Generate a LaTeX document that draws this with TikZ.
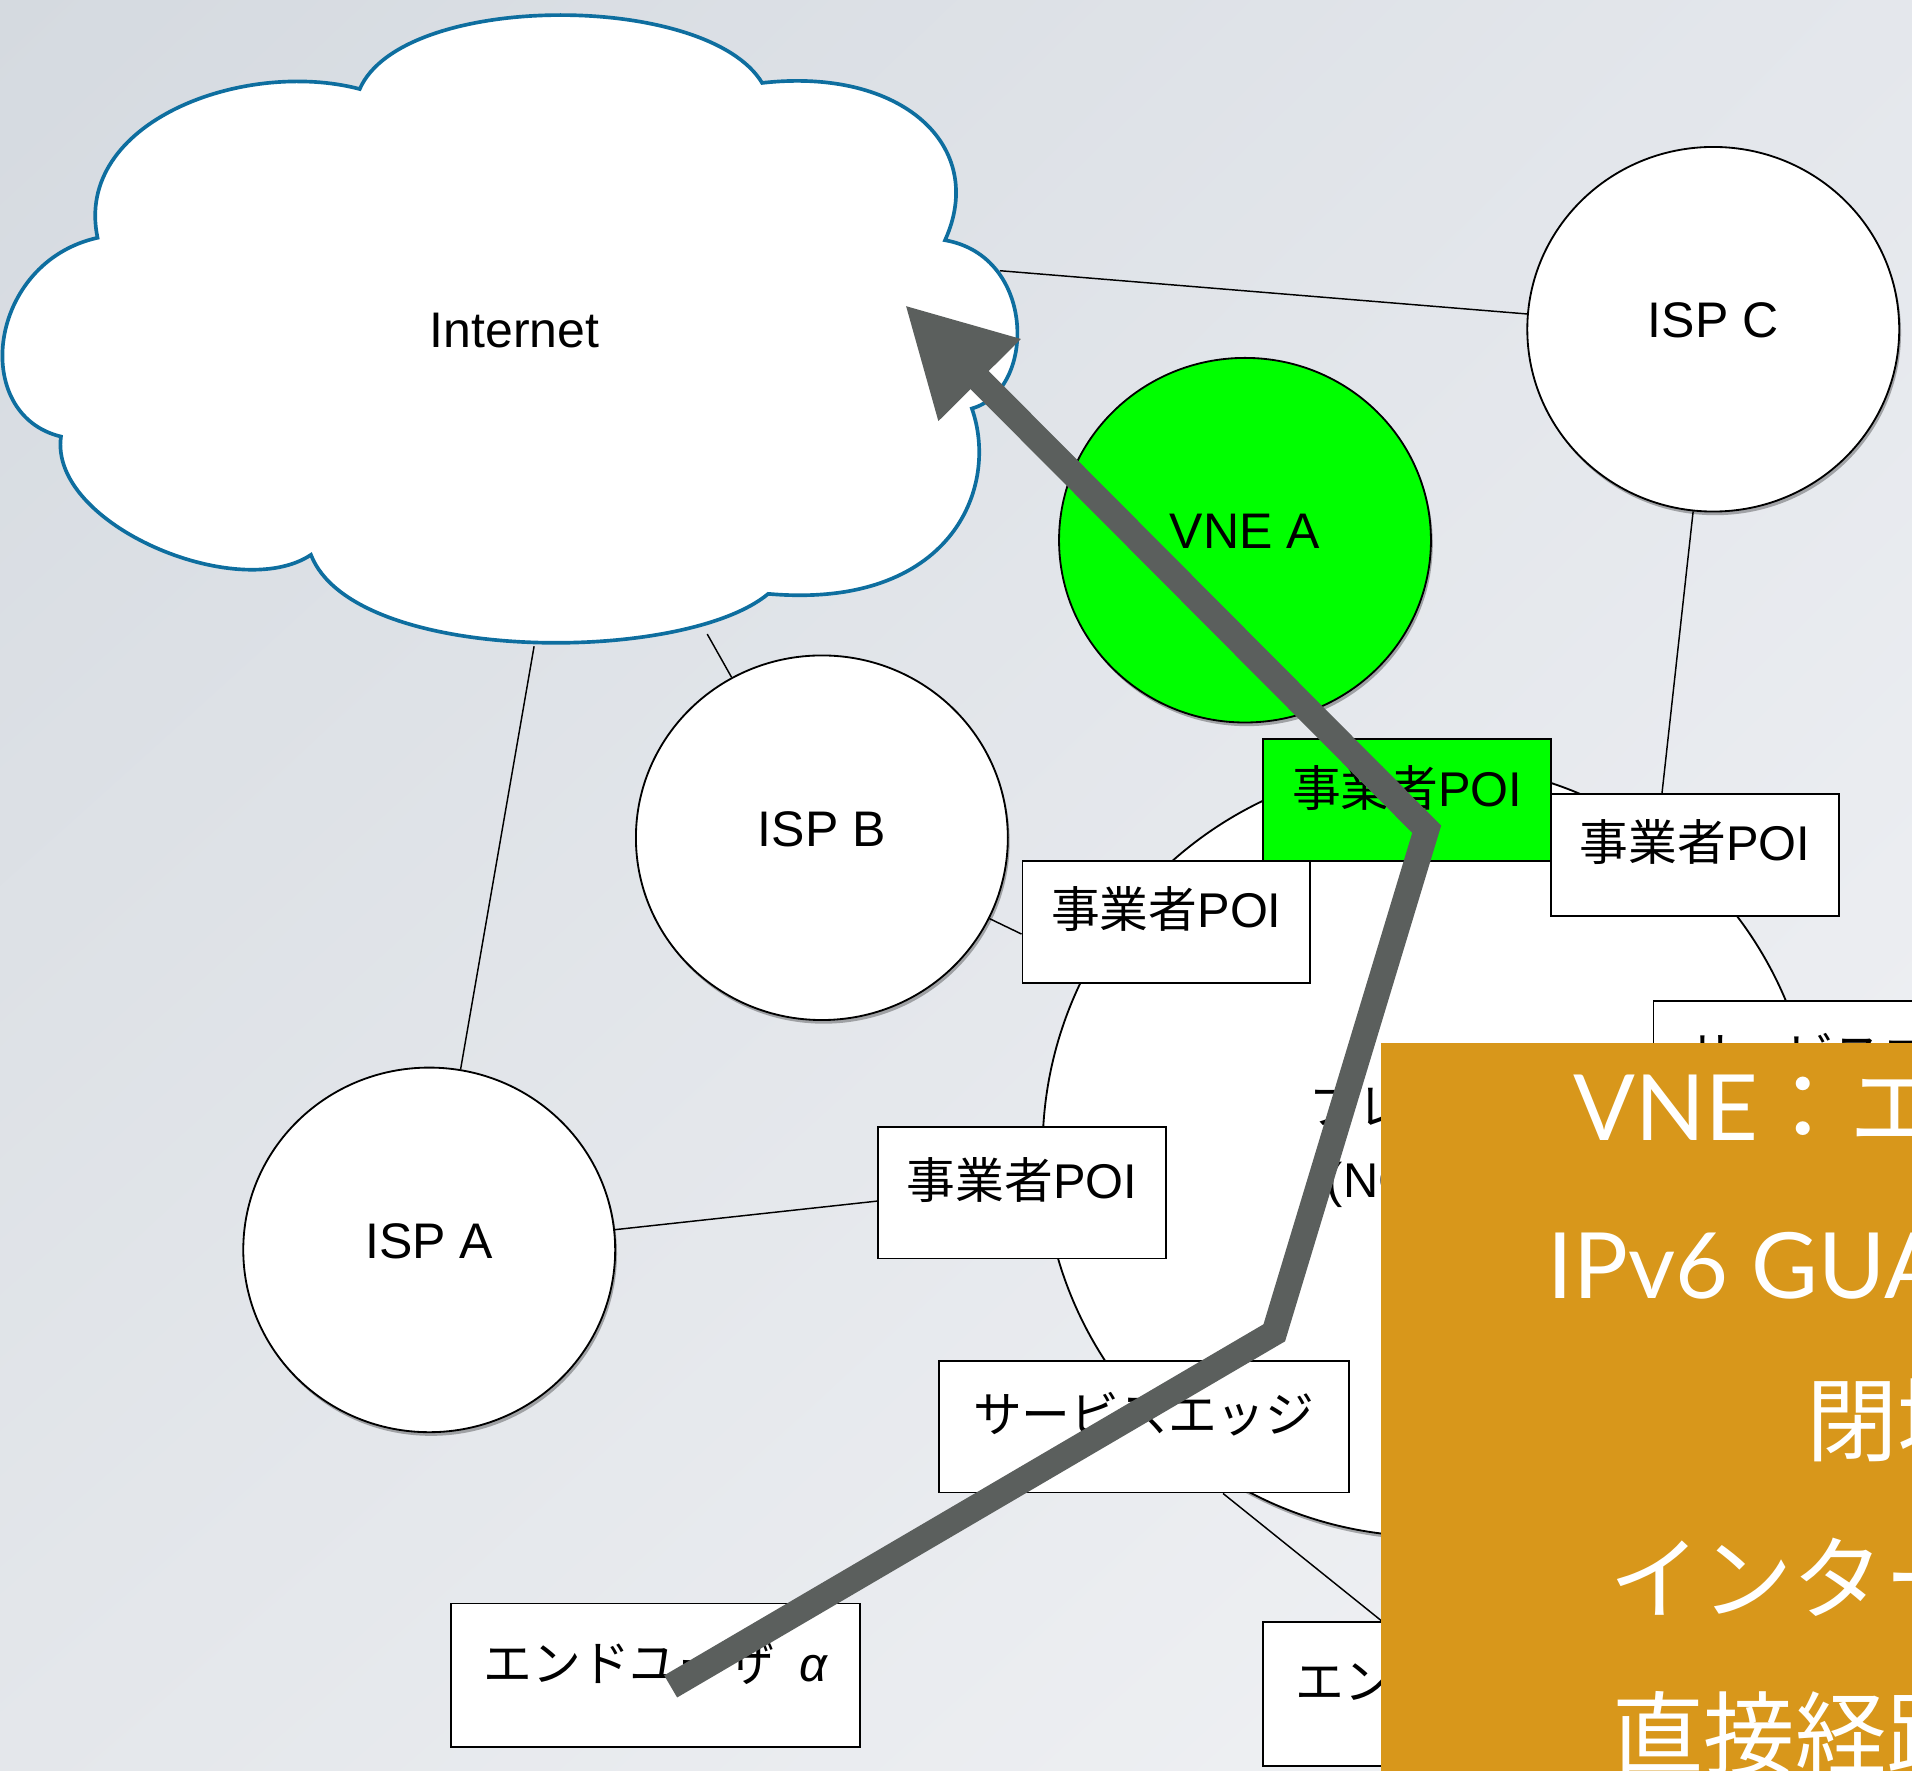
\documentclass[tikz,border=0pt]{standalone}
\usepackage{fontspec}
\setmainfont{Liberation Sans}
\newfontfamily\cjk{Noto Sans CJK JP}
\newfontfamily\callfont{Lato}
\usetikzlibrary{arrows.meta,shapes.geometric,shadows,shadings}

\newcommand{\labelsize}{\fontsize{41pt}{49pt}\selectfont}
\newcommand{\boxsize}{\fontsize{40pt}{48pt}\selectfont}
\newcommand{\callsize}{\fontsize{75pt}{90pt}\selectfont}

\definecolor{bgTL}{HTML}{D5DAE0}
\definecolor{bgTR}{HTML}{E4E7EC}
\definecolor{bgBL}{HTML}{E4E7EB}
\definecolor{bgBR}{HTML}{F2F3F6}
\definecolor{cloudblue}{HTML}{0E6E9F}
\definecolor{vnegreen}{HTML}{00FF00}
\definecolor{pathgray}{HTML}{5B5F5D}
\definecolor{calloutorange}{HTML}{D8971B}

\pgfdeclarelayer{backdrop}
\pgfdeclarelayer{links}
\pgfsetlayers{backdrop,links,main}

\begin{document}
\begin{tikzpicture}[x=1pt,y=-1pt,
  netcircle/.style={ellipse, draw=black, line width=1.5pt, fill=white,
    minimum width=305pt, minimum height=299pt, inner sep=0pt,
    font=\labelsize, text height=34pt, text depth=20pt,
    drop shadow={shadow xshift=1.5pt, shadow yshift=-3pt, fill=black, opacity=0.3}},
  poibox/.style={rectangle, draw=black, line width=1.5pt, fill=white, inner sep=0pt,
    minimum width=236pt, minimum height=100pt,
    font=\boxsize, text height=34pt, text depth=24pt},
  widebox/.style={poibox, minimum width=336pt, minimum height=108pt},
  userbox/.style={poibox, minimum width=335pt, minimum height=118pt},
  link/.style={draw=black, line width=1.2pt},
  calltext/.style={anchor=base west, inner sep=0pt, text=white, font=\callsize},
]
\useasboundingbox (0,0) rectangle (1568,1452);

% backdrop
\begin{pgfonlayer}{backdrop}
  \shade[upper left=bgTL, upper right=bgTR, lower left=bgBL, lower right=bgBR]
    (0,0) rectangle (1568,1452);
\end{pgfonlayer}

% Internet cloud
\draw[cloudblue, line width=3pt, fill=white] (295,73)
  .. controls (200,48) and (60,100) .. (80,195)
  .. controls (-10,215) and (-25,340) .. (50,358)
  .. controls (40,430) and (195,495) .. (255,455)
  .. controls (290,545) and (560,545) .. (630,487)
  .. controls (780,500) and (820,400) .. (797,335)
  .. controls (850,320) and (850,210) .. (775,197)
  .. controls (810,120) and (740,55) .. (625,68)
  .. controls (580,-7) and (330,-7) .. (295,73) -- cycle;
\node[anchor=base, inner sep=0pt, font=\labelsize] (inet) at (422,285) {Internet};
\coordinate (cloudE) at (820,222);
\coordinate (cloudS) at (438,530);
\coordinate (cloudSE) at (580,520);

% carrier network
\node[circle, draw=black, line width=1.5pt, fill=white, minimum size=634pt, inner sep=0pt,
  drop shadow={shadow xshift=1.5pt, shadow yshift=-3pt, fill=black, opacity=0.3}]
  (core) at (1172,943) {};
\node[anchor=base west, inner sep=0pt, font=\boxsize] (coreT1) at (1073,922) {\cjk フレッツ網};
\node[anchor=base west, inner sep=0pt, font=\boxsize] (coreT2) at (1088,982) {(NGN)};

% ISPs and VNE
\node[netcircle] (ispC) at (1405,270) {ISP C};
\node[netcircle, fill=vnegreen] (vneA) at (1021,443) {VNE A};
\node[netcircle] (ispB) at (674,687) {ISP B};
\node[netcircle] (ispA) at (352,1025) {ISP A};

% points of interconnection and edges
\node[poibox, fill=vnegreen] (poiV) at (1154,656) {{\cjk 事業者}POI};
\node[poibox] (poiC) at (1390,701) {{\cjk 事業者}POI};
\node[poibox] (poiB) at (956.5,756) {{\cjk 事業者}POI};
\node[poibox, minimum height=108pt] (poiA) at (838,978) {{\cjk 事業者}POI};
\node[widebox] (edgeL) at (938,1170) {\cjk サービスエッジ};
\node[widebox] (edgeR) at (1524,875) {\cjk サービスエッジ};
\node[userbox] (userA) at (537.5,1374) {{\cjk エンドユーザ}\hspace{20pt}{\itshape α}};
\node[userbox] (userB) at (1203.5,1389) {{\cjk エンドユーザ}\hspace{20pt}{\itshape β}};

% links
\begin{pgfonlayer}{links}
  \draw[link] (cloudE) -- (ispC);
  \draw[link] (cloudS) -- (ispA);
  \draw[link] (cloudSE) -- (ispB);
  \draw[link] (ispC) -- ([xshift=-27pt]poiC.north);
  \draw[link] (ispB) -- ([yshift=-10pt]poiB.west);
  \draw[link] (ispA) -- ([yshift=-7pt]poiA.west);
  \draw[link] ([xshift=65pt]edgeL.south) -- ([xshift=-70.5pt]userB.north);
\end{pgfonlayer}

% traffic path from the end user to the Internet
\coordinate (r0) at (550,1383);
\coordinate (r1) at (1045,1093);
\coordinate (r2) at (1170,680);
\coordinate (r3) at (742,250);
\draw[pathgray, line width=21pt, -{Triangle[length=87pt,width=89pt]}]
  (r0) -- (r1) -- (r2) -- (r3);

% callout
\node[rectangle, fill=calloutorange, inner sep=0pt, anchor=north west,
  minimum width=436pt, minimum height=597pt] (callout) at (1132,855) {};
\begin{scope}
  \clip (1132,855) rectangle (1568,1452);
  \node[calltext] (c1) at (1290,935) {{\callfont VNE}{\cjk ：エ}};
  \node[calltext] (c2) at (1269,1065) {\callfont IPv6 GUA};
  \node[calltext] (c3) at (1481,1193) {\cjk 閉域};
  \node[calltext] (c4) at (1320,1322) {\cjk インター};
  \node[calltext] (c5) at (1322,1450) {\cjk 直接経路};
\end{scope}
\end{tikzpicture}
\end{document}
